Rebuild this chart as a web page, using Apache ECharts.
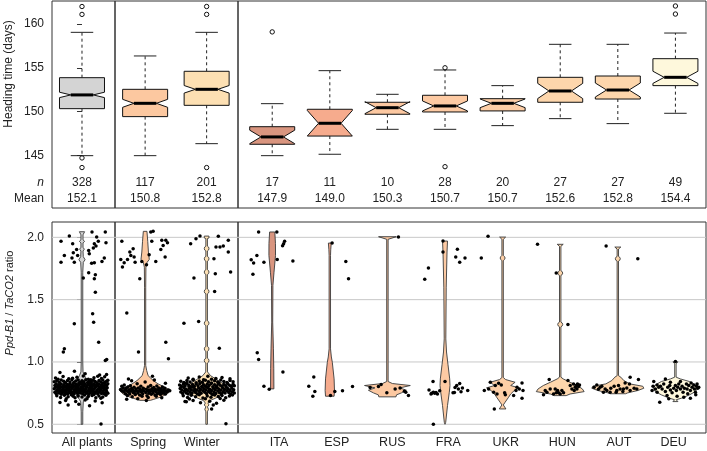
<!DOCTYPE html>
<html><head><meta charset="utf-8">
<script src="https://cdn.jsdelivr.net/npm/echarts@6/dist/echarts.min.js"></script>
<style>html,body{margin:0;padding:0;background:#fff}#c{width:707px;height:451px}</style>
</head><body><div id="c"></div>
<script>
// ---------------- DATA ----------------
const groups = [['All plants'], ['Spring','Winter'], ['ITA','ESP','RUS','FRA','UKR','HUN','AUT','DEU']];
const categories = ['All plants','Spring','Winter','ITA','ESP','RUS','FRA','UKR','HUN','AUT','DEU'];
const colors = ['#d4d4d4','#fcc8a0','#fde0b3','#d9957f','#f6ab8d','#fcc8a1','#fdcaa3','#fdcea6','#fdd6ac','#fdd6ac','#fef8dc'];
// [lower whisker, Q1, median, Q3, upper whisker] heading time (days)
const boxStats = [
 [144.96,150.33,151.90,153.87,159.05],
 [144.96,149.42,150.94,152.54,156.35],
 [146.33,150.71,152.54,154.60,159.05],
 [144.96,146.26,147.10,148.27,150.90],
 [145.12,147.20,148.66,150.26,154.67],
 [147.97,149.69,150.44,151.06,151.97],
 [147.97,149.95,150.64,151.86,154.75],
 [148.39,150.07,150.94,151.47,152.96],
 [149.19,151.06,152.35,153.91,157.68],
 [148.62,151.43,152.46,154.06,157.68],
 [149.80,152.96,153.91,156.04,158.97]
];
const outliers = [[162.0,161.1,144.7,143.6],[],[162.0,161.1,143.6],[159.1],[],[],[155.0,143.7],[],[],[],[162.06,161.14]];
const nCounts = [328,117,201,17,11,10,28,20,27,27,49];
const means = [152.1,150.8,152.8,147.9,149.0,150.3,150.7,150.7,152.6,152.8,154.4];
const headingTicks = [145,150,155,160];
const ratioTicks = [0.5,1.0,1.5,2.0];

// violin profiles: [ratio value, relative half-width]
const vioAll = [[2.045,0.1],[2.02,0.04],[1.98,0.04],[1.968,0.1],[1.955,0.04],[1.92,0.04],[1.905,0.09],[1.89,0.04],[1.845,0.05],[1.82,0.12],[1.80,0.05],[1.72,0.03],[1.0,0.03],[0.92,0.04],[0.89,0.1],[0.878,0.13],[0.86,0.2],[0.83,0.3],[0.80,0.35],[0.77,0.33],[0.74,0.25],[0.71,0.14],[0.70,0.1],[0.68,0.05],[0.60,0.03],[0.50,0.03]];
const vioSpring = [[2.048,0.07],[1.968,0.1],[1.882,0.127],[1.823,0.16],[1.796,0.065],[1.76,0.03],[1.6,0.023],[0.972,0.023],[0.932,0.058],[0.89,0.115],[0.851,0.31],[0.824,0.5],[0.797,0.77],[0.771,0.98],[0.743,0.85],[0.717,0.58],[0.699,0.31],[0.692,0.2]];
const vioWinter = [[2.01,0.09],[1.995,0.09],[1.99,0.03],[1.929,0.03],[1.922,0.075],[1.91,0.09],[1.898,0.075],[1.891,0.03],[1.847,0.03],[1.84,0.075],[1.828,0.09],[1.816,0.075],[1.809,0.03],[1.74,0.03],[1.733,0.075],[1.721,0.09],[1.709,0.075],[1.702,0.03],[1.585,0.03],[1.578,0.075],[1.566,0.09],[1.554,0.075],[1.547,0.03],[1.33,0.03],[1.323,0.075],[1.311,0.09],[1.299,0.075],[1.292,0.03],[1.124,0.03],[1.117,0.075],[1.105,0.09],[1.093,0.075],[1.086,0.03],[1.03,0.03],[1.023,0.075],[1.011,0.09],[0.999,0.075],[0.992,0.03],[0.92,0.035],[0.89,0.15],[0.86,0.38],[0.83,0.6],[0.80,0.75],[0.77,0.76],[0.74,0.6],[0.71,0.35],[0.69,0.12],[0.67,0.05],[0.655,0.09],[0.64,0.03],[0.62,0.07],[0.60,0.03],[0.50,0.03]];
const vioITA = [[2.043,0.10],[1.95,0.125],[1.855,0.127],[1.72,0.069],[1.614,0.027],[1.32,0.019],[1.105,0.046],[0.95,0.06],[0.784,0.065]];
const vioESP = [[1.954,0.055],[1.90,0.035],[1.855,0.027],[1.105,0.027],[1.04,0.06],[0.998,0.096],[0.864,0.165],[0.771,0.18],[0.725,0.165]];
const vioRUS = [[2.005,0.34],[1.984,0.027],[0.843,0.027],[0.827,0.19],[0.811,0.88],[0.792,0.48],[0.773,0.73],[0.752,0.54],[0.736,0.35],[0.72,0.33]];
const vioFRA = [[1.97,0.096],[1.882,0.077],[1.6,0.046],[1.185,0.031],[1.08,0.058],[0.978,0.115],[0.864,0.18],[0.811,0.192],[0.757,0.165],[0.65,0.096],[0.516,0.027],[0.5,0]];
const vioUKR = [[2.002,0.115],[1.984,0.027],[1.855,0.027],[1.846,0.07],[1.834,0.096],[1.822,0.07],[1.812,0.027],[0.875,0.027],[0.859,0.115],[0.837,0.48],[0.811,0.31],[0.792,0.62],[0.771,0.45],[0.743,0.31],[0.717,0.23],[0.677,0.096],[0.655,0.027],[0.623,0.127]];
const vioHUN = [[1.944,0.115],[1.928,0.027],[1.732,0.027],[1.725,0.075],[1.713,0.096],[1.701,0.075],[1.694,0.027],[1.32,0.027],[1.313,0.075],[1.301,0.096],[1.289,0.075],[1.282,0.027],[0.878,0.027],[0.864,0.115],[0.837,0.38],[0.811,0.65],[0.784,0.85],[0.762,0.92],[0.743,0.38],[0.73,0.23]];
const vioAUT = [[1.922,0.115],[1.906,0.027],[1.847,0.027],[1.84,0.075],[1.828,0.096],[1.816,0.075],[1.809,0.027],[0.89,0.027],[0.878,0.115],[0.851,0.23],[0.824,0.46],[0.805,0.96],[0.789,1.0],[0.771,0.77],[0.752,0.38],[0.745,0.3]];
const vioDEU = [[1.001,0.096],[0.985,0.027],[0.878,0.027],[0.864,0.19],[0.843,0.54],[0.816,0.77],[0.789,0.85],[0.762,0.77],[0.736,0.54],[0.709,0.23],[0.697,0.03],[0.682,0.096]];

// jittered points: [offset from category centre (category widths), ratio]
const ptsAll = [[-0.201,2.010],[0.159,2.043],[0.233,2.002],[0.37,2.043],[0.259,1.968],[0.196,1.949],[0.222,1.930],[0.18,1.914],[0.106,1.895],[0.381,1.957],[-0.333,1.968],[-0.148,1.949],[-0.085,1.903],[-0.138,1.877],[-0.069,1.855],[-0.28,1.855],[-0.159,1.834],[-0.122,1.801],[-0.333,1.801],[0.116,1.869],[0.153,1.793],[0.196,1.796],[0.317,1.807],[0.354,1.834],[0.106,1.716],[0.212,1.700],[0.021,1.673],[0.196,1.668],[0.212,1.560],[0.169,1.386],[0.185,1.319],[-0.122,1.306],[-0.28,1.105],[-0.296,1.079],[0.265,1.159],[0.37,1.012],[0.392,1.020],[0.302,0.503],
[-0.35,0.915],[0.05,0.905],[0.28,0.895],[-0.12,0.925],[0.39,0.90],
[-0.42,0.872],[-0.30,0.884],[-0.21,0.866],[-0.08,0.878],[0.02,0.888],[0.10,0.862],[0.19,0.874],[0.31,0.868],[0.36,0.882],[-0.38,0.861],[0.25,0.886],[-0.15,0.870],
[-0.44,0.842],[-0.40,0.851],[-0.36,0.838],[-0.33,0.856],[-0.29,0.845],[-0.26,0.833],[-0.23,0.852],[-0.19,0.840],[-0.16,0.858],[-0.13,0.835],[-0.10,0.848],[-0.06,0.855],[-0.03,0.838],[0.00,0.850],[0.03,0.842],[0.06,0.857],[0.09,0.836],[0.12,0.849],[0.15,0.839],[0.18,0.854],[0.21,0.843],[0.24,0.833],[0.27,0.851],[0.30,0.840],[0.33,0.856],[0.36,0.837],[0.39,0.846],[0.41,0.853],[-0.05,0.832],[0.14,0.858],
[-0.43,0.812],[-0.41,0.826],[-0.39,0.804],[-0.37,0.818],[-0.35,0.808],[-0.33,0.823],[-0.31,0.801],[-0.29,0.815],[-0.27,0.829],[-0.25,0.806],[-0.23,0.820],[-0.21,0.810],[-0.19,0.825],[-0.17,0.803],[-0.15,0.817],[-0.13,0.829],[-0.11,0.808],[-0.09,0.821],[-0.07,0.805],[-0.05,0.814],[-0.03,0.827],[-0.01,0.802],[0.01,0.819],[0.03,0.809],[0.05,0.824],[0.07,0.803],[0.09,0.816],[0.11,0.828],[0.13,0.807],[0.15,0.822],[0.17,0.811],[0.19,0.826],[0.21,0.804],[0.23,0.818],[0.25,0.809],[0.27,0.823],[0.29,0.801],[0.31,0.815],[0.33,0.827],[0.35,0.806],[0.37,0.820],[0.39,0.812],[0.41,0.825],[-0.20,0.800],[0.00,0.830],[0.20,0.815],
[-0.44,0.785],[-0.42,0.797],[-0.40,0.774],[-0.38,0.789],[-0.36,0.778],[-0.34,0.795],[-0.32,0.771],[-0.30,0.784],[-0.28,0.798],[-0.26,0.776],[-0.24,0.790],[-0.22,0.780],[-0.20,0.794],[-0.18,0.772],[-0.16,0.787],[-0.14,0.799],[-0.12,0.777],[-0.10,0.791],[-0.08,0.782],[-0.06,0.796],[-0.04,0.773],[-0.02,0.788],[0.00,0.779],[0.02,0.793],[0.04,0.775],[0.06,0.786],[0.08,0.798],[0.10,0.772],[0.12,0.790],[0.14,0.781],[0.16,0.795],[0.18,0.776],[0.20,0.788],[0.22,0.799],[0.24,0.773],[0.26,0.785],[0.28,0.792],[0.30,0.778],[0.32,0.796],[0.34,0.771],[0.36,0.789],[0.38,0.780],[0.40,0.794],[-0.35,0.800],[-0.09,0.770],[0.15,0.770],[0.29,0.800],[-0.21,0.770],
[-0.43,0.757],[-0.41,0.745],[-0.39,0.766],[-0.37,0.750],[-0.35,0.762],[-0.33,0.741],[-0.31,0.755],[-0.29,0.768],[-0.27,0.747],[-0.25,0.760],[-0.23,0.743],[-0.21,0.753],[-0.19,0.765],[-0.17,0.748],[-0.15,0.759],[-0.13,0.742],[-0.11,0.756],[-0.09,0.767],[-0.07,0.746],[-0.05,0.761],[-0.03,0.751],[-0.01,0.764],[0.01,0.744],[0.03,0.758],[0.05,0.769],[0.07,0.749],[0.09,0.762],[0.11,0.740],[0.13,0.754],[0.15,0.766],[0.17,0.745],[0.19,0.757],[0.21,0.750],[0.23,0.763],[0.25,0.742],[0.27,0.756],[0.29,0.768],[0.31,0.747],[0.33,0.759],[0.35,0.744],[0.37,0.752],[0.39,0.765],[0.41,0.748],
[-0.40,0.728],[-0.34,0.715],[-0.28,0.733],[-0.22,0.720],[-0.17,0.736],[-0.11,0.712],[-0.06,0.726],[0.00,0.718],[0.04,0.735],[0.10,0.722],[0.16,0.730],[0.22,0.713],[0.27,0.727],[0.33,0.719],[0.38,0.732],[-0.25,0.705],[0.08,0.704],[0.30,0.708],[-0.14,0.725],[0.19,0.738],
[-0.26,0.690],[-0.10,0.682],[0.05,0.695],[0.21,0.686],[-0.35,0.675],[0.32,0.672],[-0.05,0.660],[-0.22,0.655],[0.12,0.648]];
const ptsSpring = [[-0.379,1.968],[-0.195,1.909],[-0.249,1.882],[-0.233,1.855],[-0.179,1.842],[-0.287,1.823],[-0.396,1.823],[-0.341,1.796],[-0.369,1.761],[-0.163,1.801],[-0.054,1.807],[0.022,1.78],[0.065,1.861],[0.108,1.968],[0.271,1.976],[0.336,1.976],[0.363,1.957],[0.293,1.935],[0.255,1.903],[0.325,1.842],[0.173,1.807],[0.092,2.043],[0.13,2.048],[-0.087,1.667],[-0.298,1.392],[-0.108,1.079],[0.336,1.159],[0.379,1.025],[0.119,0.886],[-0.271,0.864],
[-0.40,0.780],[-0.38,0.770],[-0.36,0.792],[-0.35,0.760],[-0.34,0.815],[-0.33,0.775],[-0.32,0.745],[-0.31,0.790],[-0.30,0.768],[-0.29,0.730],[-0.28,0.800],[-0.27,0.757],[-0.26,0.778],[-0.25,0.742],[-0.24,0.810],[-0.23,0.765],[-0.22,0.788],[-0.21,0.720],[-0.20,0.775],[-0.19,0.752],[-0.18,0.798],[-0.17,0.762],[-0.16,0.738],[-0.15,0.784],[-0.14,0.770],[-0.13,0.826],[-0.12,0.750],[-0.11,0.792],[-0.10,0.765],[-0.09,0.735],[-0.08,0.780],[-0.07,0.805],[-0.06,0.758],[-0.05,0.772],[-0.04,0.745],[-0.03,0.790],[-0.02,0.768],[0.00,0.840],[0.01,0.755],[0.02,0.782],[0.03,0.728],[0.04,0.770],[0.05,0.800],[0.06,0.748],[0.07,0.776],[0.08,0.762],[0.09,0.812],[0.10,0.740],[0.11,0.786],[0.12,0.766],[0.13,0.752],[0.14,0.795],[0.15,0.772],[0.16,0.735],[0.17,0.780],[0.18,0.760],[0.19,0.808],[0.20,0.745],[0.21,0.776],[0.22,0.792],[0.23,0.755],[0.24,0.770],[0.25,0.738],[0.26,0.785],[0.27,0.762],[0.28,0.800],[0.29,0.748],[0.30,0.775],[0.31,0.758],[0.32,0.790],[0.33,0.742],[0.34,0.770],[0.36,0.760],[0.38,0.775],[0.40,0.768],
[-0.30,0.700],[-0.12,0.705],[0.05,0.715],[0.27,0.712],[-0.22,0.850],[0.15,0.855],[0.33,0.830],[-0.38,0.805],[0.02,0.690],[-0.05,0.725],[0.18,0.725]];
const ptsWinter = [[-0.26,1.949],[-0.173,1.989],[-0.108,2.010],[0.19,2.008],[0.352,1.976],[0.152,1.922],[0.217,1.922],[0.271,1.930],[0.352,1.882],[0.119,1.828],[0.39,1.721],[0.141,1.708],[-0.206,1.673],[0.13,1.566],[-0.369,1.311],[-0.13,1.325],[0.206,1.111],[-0.352,0.682],[0.314,0.505],[0.108,0.655],[0.081,0.623],
[-0.30,0.872],[-0.12,0.880],[0.02,0.886],[0.15,0.868],[0.25,0.876],[-0.22,0.862],[0.38,0.865],[0.08,0.862],
[-0.42,0.845],[-0.37,0.836],[-0.32,0.852],[-0.27,0.840],[-0.22,0.856],[-0.17,0.834],[-0.12,0.848],[-0.07,0.838],[-0.02,0.854],[0.03,0.842],[0.08,0.832],[0.13,0.850],[0.18,0.839],[0.23,0.855],[0.28,0.843],[0.33,0.835],[0.38,0.851],[0.43,0.841],[-0.05,0.858],[0.20,0.831],
[-0.44,0.815],[-0.41,0.803],[-0.38,0.822],[-0.35,0.809],[-0.32,0.827],[-0.29,0.812],[-0.26,0.801],[-0.23,0.819],[-0.20,0.806],[-0.17,0.824],[-0.14,0.810],[-0.11,0.828],[-0.08,0.804],[-0.05,0.817],[-0.02,0.807],[0.01,0.823],[0.04,0.811],[0.07,0.826],[0.10,0.802],[0.13,0.818],[0.16,0.808],[0.19,0.825],[0.22,0.813],[0.25,0.803],[0.28,0.820],[0.31,0.809],[0.34,0.827],[0.37,0.814],[0.40,0.805],[0.43,0.821],[0.45,0.810],[-0.36,0.830],[0.00,0.800],
[-0.43,0.788],[-0.40,0.776],[-0.37,0.795],[-0.34,0.781],[-0.31,0.772],[-0.28,0.790],[-0.25,0.778],[-0.22,0.797],[-0.19,0.784],[-0.16,0.773],[-0.13,0.792],[-0.10,0.780],[-0.07,0.798],[-0.04,0.786],[-0.01,0.775],[0.02,0.793],[0.05,0.782],[0.08,0.771],[0.11,0.789],[0.14,0.777],[0.17,0.796],[0.20,0.783],[0.23,0.774],[0.26,0.791],[0.29,0.779],[0.32,0.797],[0.35,0.785],[0.38,0.772],[0.41,0.790],[0.44,0.778],[-0.20,0.770],[0.15,0.800],
[-0.42,0.758],[-0.39,0.746],[-0.36,0.764],[-0.33,0.751],[-0.30,0.742],[-0.27,0.760],[-0.24,0.748],[-0.21,0.767],[-0.18,0.754],[-0.15,0.743],[-0.12,0.762],[-0.09,0.749],[-0.06,0.768],[-0.03,0.756],[0.00,0.744],[0.03,0.763],[0.06,0.752],[0.09,0.741],[0.12,0.759],[0.15,0.747],[0.18,0.766],[0.21,0.753],[0.24,0.745],[0.27,0.761],[0.30,0.750],[0.33,0.768],[0.36,0.755],[0.39,0.743],[0.42,0.760],[0.45,0.750],
[-0.38,0.728],[-0.31,0.715],[-0.25,0.733],[-0.18,0.720],[-0.12,0.736],[-0.06,0.711],[0.01,0.726],[0.07,0.717],[0.13,0.734],[0.19,0.722],[0.25,0.730],[0.31,0.712],[0.37,0.727],[-0.02,0.704],[0.22,0.706],[-0.28,0.702],[0.42,0.735],[0.10,0.738],
[-0.22,0.690],[0.05,0.685],[0.28,0.692],[-0.10,0.672],[0.16,0.668],[-0.33,0.680]];
const ptsITA = [[-0.236,2.043],[0.08,2.043],[0.215,1.968],[0.198,1.949],[0.18,1.933],[-0.365,1.82],[-0.323,1.794],[-0.266,1.855],[-0.144,1.8],[0.087,1.823],[0.359,1.81],[-0.335,1.703],[-0.26,1.073],[-0.236,1.02],[0.186,0.92],[-0.144,0.805],[-0.052,0.781]];
const ptsESP = [[0.04,1.954],[0.278,1.807],[0.325,1.668],[-0.278,0.88],[-0.365,0.805],[-0.26,0.762],[-0.295,0.725],[0.012,0.73],[0.087,0.762],[0.22,0.77],[0.394,0.803]];
const ptsRUS = [[0.191,2.002],[-0.3,0.795],[-0.156,0.803],[-0.109,0.819],[-0.01,0.752],[0.22,0.792],[0.295,0.765],[0.319,0.757],[0.365,0.73],[0.134,0.784]];
const ptsFRA = [[-0.035,1.97],[-0.035,1.882],[0.215,1.904],[0.186,1.842],[0.255,1.801],[0.347,1.834],[-0.288,1.753],[-0.352,1.663],[-0.208,0.843],[0,0.843],[-0.278,0.775],[-0.231,0.749],[-0.202,0.757],[-0.179,0.749],[-0.156,0.755],[-0.092,0.768],[0.139,0.752],[0.174,0.795],[0.203,0.811],[0.255,0.827],[0.232,0.784],[0.302,0.792],[0.278,0.76],[0.394,0.771],[-0.202,0.5],[-0.243,0.743],[-0.132,0.743],[0.163,0.755]];
const ptsUKR = [[-0.253,2.008],[-0.37,1.834],[-0.214,0.837],[-0.127,0.811],[-0.069,0.83],[-0.023,0.816],[-0.243,0.784],[-0.318,0.771],[-0.156,0.757],[-0.097,0.743],[0.035,0.752],[0.047,0.736],[0.191,0.73],[0.232,0.771],[0.25,0.797],[0.337,0.832],[0.29,0.784],[0.354,0.771],[0.337,0.709],[-0.144,0.623]];
const ptsHUN = [[-0.394,1.944],[-0.069,1.713],[0.134,1.301],[-0.191,0.859],[0.134,0.851],[-0.174,0.784],[-0.29,0.736],[-0.26,0.771],[-0.087,0.784],[-0.046,0.771],[-0.069,0.752],[-0.029,0.752],[0.029,0.771],[0,0.743],[0.058,0.752],[0.174,0.811],[0.203,0.784],[0.231,0.824],[0.26,0.797],[0.278,0.811],[0.3,0.824],[0.318,0.803],[0.29,0.784],[0.335,0.816],[0.243,0.771],[-0.231,0.757],[-0.116,0.743]];
const ptsAUT = [[-0.203,1.93],[0.347,1.828],[-0.365,0.816],[-0.411,0.797],[-0.307,0.797],[-0.278,0.805],[-0.22,0.784],[-0.191,0.771],[-0.122,0.789],[-0.064,0.805],[0.012,0.811],[0.04,0.784],[-0.017,0.771],[0.098,0.784],[0.156,0.792],[0.202,0.824],[0.214,0.878],[0.283,0.789],[0.358,0.859],[0.214,0.771],[0.087,0.762],[-0.25,0.757],[-0.337,0.781],[-0.134,0.757],[0.33,0.784],[-0.029,0.757],[0.127,0.832]];
const ptsDEU = [[-0.376,0.843],[-0.318,0.816],[-0.289,0.797],[-0.405,0.771],[-0.347,0.784],[-0.26,0.805],[-0.231,0.784],[-0.203,0.824],[-0.174,0.762],[-0.133,0.797],[-0.098,0.811],[-0.087,0.776],[-0.058,0.752],[-0.029,0.789],[0,0.811],[0.017,0.771],[0.041,0.797],[0.058,0.824],[0.087,0.784],[0.116,0.805],[0.133,0.757],[0.156,0.789],[0.191,0.824],[0.203,0.784],[0.214,0.744],[0.231,0.811],[0.26,0.771],[0.272,0.832],[0.289,0.797],[0.318,0.816],[0.33,0.784],[0.347,0.757],[0.365,0.805],[0.376,0.824],[0.388,0.789],[0.353,0.736],[-0.318,0.757],[-0.145,0.730],[0.029,0.725],[0.145,0.717],[-0.087,0.837],[0.087,0.843],[-0.272,0.677],[0,1.003],[0.26,0.709],[-0.174,0.864],[-0.116,0.704],[-0.388,0.805],[0.405,0.797]];

const violins = [vioAll,vioSpring,vioWinter,vioITA,vioESP,vioRUS,vioFRA,vioUKR,vioHUN,vioAUT,vioDEU];
const points = [ptsAll,ptsSpring,ptsWinter,ptsITA,ptsESP,ptsRUS,ptsFRA,ptsUKR,ptsHUN,ptsAUT,ptsDEU];

// ---------------- LAYOUT ----------------
const FONT = '"Liberation Sans", Arial, Helvetica, sans-serif';
const TXT = '#222';
const GRID_X = [[52,63],[115,123],[238,468]];
const X_RANGE = [[-0.476,0.524],[-0.49,1.51],[-0.594,7.531]];
const LABEL_POS = [[0.08],[0.05,0.92],[0.12,1.12,2.085,3.057,4.054,5.036,6.02,6.97]];
const PANEL = [{top:1,height:207,min:138.98,max:162.63},{top:222,height:211,min:0.43,max:2.123}];
const N_ROW = 141.85, MEAN_ROW = 140.0;
const BOX_HALF = 22.5, VIO_SCALE = 26;

const catGrid = [], catSlot = [];
groups.forEach((g,gi)=>g.forEach((c,si)=>{catGrid.push(gi);catSlot.push(si);}));

const grid=[], xAxis=[], yAxis=[], series=[];
for (let p=0;p<2;p++) for (let g=0;g<3;g++) {
  const gi = p*3+g;
  grid.push({left:GRID_X[g][0], width:GRID_X[g][1], top:PANEL[p].top, height:PANEL[p].height,
    show:true, borderColor:'#333', borderWidth:1, backgroundColor:'transparent', containLabel:false, outerBoundsMode:'none'});
  xAxis.push({type:'value', gridIndex:gi, min:X_RANGE[g][0], max:X_RANGE[g][1], show:p===1,
    axisLine:{show:false}, axisTick:{show:false}, splitLine:{show:false},
    axisLabel:{show:true, customValues:LABEL_POS[g], formatter:v=>groups[g][Math.round(v)]||'', margin:3,
      fontSize:12.5, color:TXT, fontFamily:FONT}});
  const ticks = p ? ratioTicks : headingTicks;
  const labelVals = p ? ratioTicks : [MEAN_ROW, N_ROW].concat(headingTicks);
  yAxis.push({type:'value', gridIndex:gi, min:PANEL[p].min, max:PANEL[p].max, show:g===0,
    axisLine:{show:false}, splitLine:{show:false},
    axisTick:{show:true, customValues:ticks, length:5, lineStyle:{color:'#333', width:1}},
    axisLabel:{customValues:labelVals, margin:8, fontSize:12, color:TXT, fontFamily:FONT,
      formatter:v=>{ if(p) return v.toFixed(1); if(Math.abs(v-N_ROW)<0.01) return '{i|n}'; if(Math.abs(v-MEAN_ROW)<0.01) return 'Mean'; return String(v); },
      rich:{i:{fontStyle:'italic', fontSize:12, color:TXT, fontFamily:FONT}}}});
}

function renderBox(params, api){
  const slot = api.value(0), ci = api.value(1);
  const [lo,q1,md,q3,hi] = boxStats[ci];
  const notch = 1.58*(q3-q1)/Math.sqrt(nCounts[ci]);
  const c1 = md-notch, c2 = md+notch;
  const cx = api.coord([slot, md])[0];
  const y = v => api.coord([slot, v])[1];
  const W = BOX_HALF;
  const ch = [];
  const dash = {stroke:'#222', lineWidth:1, lineDash:[3,3]};
  const solid = {stroke:'#222', lineWidth:1};
  ch.push({type:'line', shape:{x1:cx,y1:y(q3),x2:cx,y2:y(hi)}, style:dash});
  ch.push({type:'line', shape:{x1:cx,y1:y(q1),x2:cx,y2:y(lo)}, style:dash});
  ch.push({type:'line', shape:{x1:cx-W/2,y1:y(hi),x2:cx+W/2,y2:y(hi)}, style:solid});
  ch.push({type:'line', shape:{x1:cx-W/2,y1:y(lo),x2:cx+W/2,y2:y(lo)}, style:solid});
  const pts = [[cx-W,y(q1)],[cx+W,y(q1)],[cx+W,y(c1)],[cx+W/2,y(md)],[cx+W,y(c2)],[cx+W,y(q3)],[cx-W,y(q3)],[cx-W,y(c2)],[cx-W/2,y(md)],[cx-W,y(c1)]];
  ch.push({type:'polygon', shape:{points:pts}, style:{fill:colors[ci], stroke:'#111', lineWidth:1}});
  ch.push({type:'line', shape:{x1:cx-W/2,y1:y(md),x2:cx+W/2,y2:y(md)}, style:{stroke:'#000', lineWidth:3}});
  outliers[ci].forEach(v=>ch.push({type:'circle', shape:{cx:cx, cy:y(v), r:2.2}, style:{fill:'none', stroke:'#111', lineWidth:1}}));
  const ts = {fontSize:12, fill:TXT, fontFamily:FONT, align:'center', verticalAlign:'middle'};
  ch.push({type:'text', style:Object.assign({text:String(nCounts[ci]), x:cx, y:y(N_ROW)}, ts)});
  ch.push({type:'text', style:Object.assign({text:means[ci].toFixed(1), x:cx, y:y(MEAN_ROW)}, ts)});
  return {type:'group', children:ch};
}
function renderViolin(params, api){
  const slot = api.value(0), ci = api.value(1);
  const right=[], left=[];
  violins[ci].forEach(([v,w])=>{ const p = api.coord([slot,v]); right.push([p[0]+w*VIO_SCALE,p[1]]); left.push([p[0]-w*VIO_SCALE,p[1]]); });
  return {type:'polygon', shape:{points:right.concat(left.reverse())}, style:{fill:colors[ci], stroke:'#3a3a3a', lineWidth:0.9}};
}
function renderGridLine(params, api){
  const cs = params.coordSys;
  const yy = api.coord([0, api.value(1)])[1];
  return {type:'line', shape:{x1:cs.x, y1:yy, x2:cs.x+cs.width, y2:yy}, style:{stroke:'#c8c8c8', lineWidth:1}};
}

for (let g=0; g<3; g++){
  const cats = categories.map((c,i)=>i).filter(i=>catGrid[i]===g);
  series.push({type:'custom', xAxisIndex:g, yAxisIndex:g, renderItem:renderBox, z:3, silent:true,
    encode:{x:0,y:2}, data:cats.map(i=>[catSlot[i], i, 150])});
  series.push({type:'custom', xAxisIndex:3+g, yAxisIndex:3+g, renderItem:renderGridLine, z:1, silent:true,
    encode:{x:0,y:1}, data:ratioTicks.map(v=>[0,v])});
  series.push({type:'custom', xAxisIndex:3+g, yAxisIndex:3+g, renderItem:renderViolin, z:2, silent:true,
    encode:{x:0,y:2}, data:cats.map(i=>[catSlot[i], i, 1])});
  const sd = [];
  cats.forEach(i=>points[i].forEach(([o,v])=>sd.push([catSlot[i]+o, v])));
  series.push({type:'scatter', xAxisIndex:3+g, yAxisIndex:3+g, data:sd, symbolSize:3.5, z:4, silent:true,
    itemStyle:{color:'#000', opacity:1}});
}

const chart = echarts.init(document.getElementById('c'), null, {renderer:'canvas'});
chart.setOption({
  animation:false, backgroundColor:'#fff',
  grid, xAxis, yAxis, series,
  graphic:[
    {type:'text', x:9, y:74, rotation:Math.PI/2, style:{text:'Heading time (days)', fontSize:12, fill:TXT, fontFamily:FONT, align:'center', verticalAlign:'middle'}},
    {type:'text', x:10, y:303, rotation:Math.PI/2, style:{text:'{i|Ppd-B1} / {i|TaCO2} ratio', fontSize:11, fill:TXT, fontFamily:FONT, align:'center', verticalAlign:'middle',
      rich:{i:{fontStyle:'italic', fontSize:11, fill:TXT, fontFamily:FONT}}}}
  ]
});
</script>
</body></html>
